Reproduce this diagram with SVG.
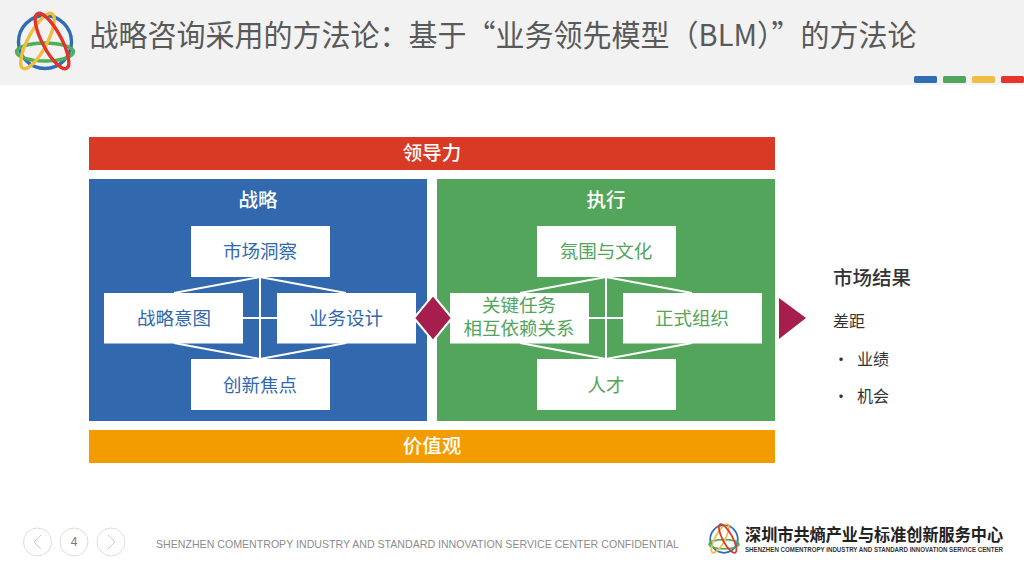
<svg xmlns="http://www.w3.org/2000/svg" width="1024" height="576" viewBox="0 0 1024 576">
<style>
text{font-family:"Noto Sans CJK SC","Liberation Sans",sans-serif;text-anchor:middle}
.hd{fill:#fff;font-size:19.5px;font-weight:500}
.bx{fill:#fff}
.bt{fill:#3168ae;font-size:18.5px}
.gt{fill:#52a55b;font-size:18.5px}
.ln{stroke:#fff;stroke-width:2;fill:none}
.r{fill:#333;font-size:16px;text-anchor:start}
.nav{fill:#fff;stroke:#ddd;stroke-width:1}
.chev{fill:none;stroke:#ccc;stroke-width:1}
</style>
<defs>
<g id="logo" fill="none">
<circle cx="0" cy="0" r="26.5" stroke="#2f6db5" stroke-width="3.4"/>
<ellipse cx="0" cy="10" rx="28.5" ry="9" stroke="#4fae57" stroke-width="3.4"/>
<ellipse cx="-7.500" cy="-1" rx="9.500" ry="31" transform="rotate(28 -7.500 -1)" stroke="#f0bd3f" stroke-width="3.4"/>
<ellipse cx="7" cy="-1" rx="9.500" ry="31" transform="rotate(-28 7 -1)" stroke="#e0352b" stroke-width="3.4"/>
</g>
</defs>
<rect width="1024" height="85" fill="#f2f2f2"/>
<g id="header-logo"><use href="#logo" transform="translate(45 42)"/></g>
<text x="503" y="46" style="font-size:30px;fill:#595959" textLength="827" lengthAdjust="spacingAndGlyphs">战略咨询采用的方法论：基于“业务领先模型（BLM）”的方法论</text>
<g id="legend-bars">
<rect x="914" y="76" width="23" height="7" rx="1.500" fill="#2f6db5"/>
<rect x="943" y="76" width="23" height="7" rx="1.500" fill="#52a55b"/>
<rect x="972" y="76" width="23" height="7" rx="1.500" fill="#efbd45"/>
<rect x="1001" y="76" width="23" height="7" rx="1.500" fill="#e8352b"/>
</g>
<g id="leadership"><rect x="89" y="137" width="686" height="33" fill="#d93a26"/><text x="432" y="160" class="hd">领导力</text></g>
<g id="values"><rect x="89" y="430" width="686" height="33" fill="#f39c00"/><text x="432" y="453" class="hd">价值观</text></g>
<g id="strategy"><rect x="89" y="179" width="338" height="242" fill="#3168ae"/><text x="258" y="207" class="hd">战略</text></g>
<g id="execution"><rect x="437" y="179" width="338" height="242" fill="#52a55b"/><text x="606" y="207" class="hd">执行</text></g>
<g id="connectors">
<path class="ln" d="M260 277V359M243 318H277M260 277L174 293M260 277L346 293M260 359L174 343M260 359L346 343"/>
<path class="ln" d="M606 277V359M589 318H623M606 277L520 293M606 277L692 293M606 359L520 343M606 359L692 343"/>
</g>
<g id="n1"><rect x="191" y="226" width="139" height="51" class="bx"/><text x="260" y="258" class="bt">市场洞察</text></g>
<g id="n2"><rect x="104" y="293" width="139" height="50.500" class="bx"/><text x="174" y="325" class="bt">战略意图</text></g>
<g id="n3"><rect x="277" y="293" width="139" height="50.500" class="bx"/><text x="346" y="325" class="bt">业务设计</text></g>
<g id="n4"><rect x="191" y="359" width="139" height="51" class="bx"/><text x="260" y="392" class="bt">创新焦点</text></g>
<g id="n5"><rect x="537" y="226" width="139" height="51" class="bx"/><text x="606" y="258" class="gt">氛围与文化</text></g>
<g id="n6"><rect x="450" y="293" width="139" height="50.500" class="bx"/><text x="519" y="312" class="gt">关键任务</text><text x="519" y="335" class="gt">相互依赖关系</text></g>
<g id="n7"><rect x="623" y="293" width="139" height="50.500" class="bx"/><text x="692" y="325" class="gt">正式组织</text></g>
<g id="n8"><rect x="537" y="359" width="139" height="51" class="bx"/><text x="606" y="392" class="gt">人才</text></g>
<g id="diamond"><path d="M433 295L452 318L433 341L414 318Z" fill="#a51e4e" stroke="#fff" stroke-width="2"/></g>
<g id="arrow"><path d="M779 298L806 318L779 339Z" fill="#a51e4e"/></g>
<g id="results">
<text x="833" y="285" class="r" style="font-size:19.500px;font-weight:500">市场结果</text>
<text x="833" y="327" class="r">差距</text>
<text x="833" y="365" class="r">•</text><text x="857" y="365" class="r">业绩</text>
<text x="833" y="402" class="r">•</text><text x="857" y="402" class="r">机会</text>
</g>
<g id="pager">
<circle cx="37.500" cy="542" r="14" class="nav"/><path class="chev" d="M41 535L34 542L41 549"/>
<circle cx="74" cy="542" r="14" class="nav"/><text x="74" y="546" style="font-family:'Liberation Sans',sans-serif;font-size:12px;fill:#777">4</text>
<circle cx="111" cy="542" r="14" class="nav"/><path class="chev" d="M108 535L115 542L108 549"/>
</g>
<text x="417.500" y="548" style="font-family:'Liberation Sans',sans-serif;font-size:11px;fill:#8c8c8c" textLength="523" lengthAdjust="spacingAndGlyphs">SHENZHEN COMENTROPY INDUSTRY AND STANDARD INNOVATION SERVICE CENTER CONFIDENTIAL</text>
<g id="footer-logo"><use href="#logo" transform="translate(724 539) scale(.52)"/></g>
<text x="874" y="541" style="font-size:16.500px;font-weight:700;fill:#222" textLength="258" lengthAdjust="spacingAndGlyphs">深圳市共熵产业与标准创新服务中心</text>
<text x="874" y="552" style="font-family:'Liberation Sans',sans-serif;font-size:7px;font-weight:700;fill:#333" textLength="258" lengthAdjust="spacingAndGlyphs">SHENZHEN COMENTROPY INDUSTRY AND STANDARD INNOVATION SERVICE CENTER</text>
</svg>
